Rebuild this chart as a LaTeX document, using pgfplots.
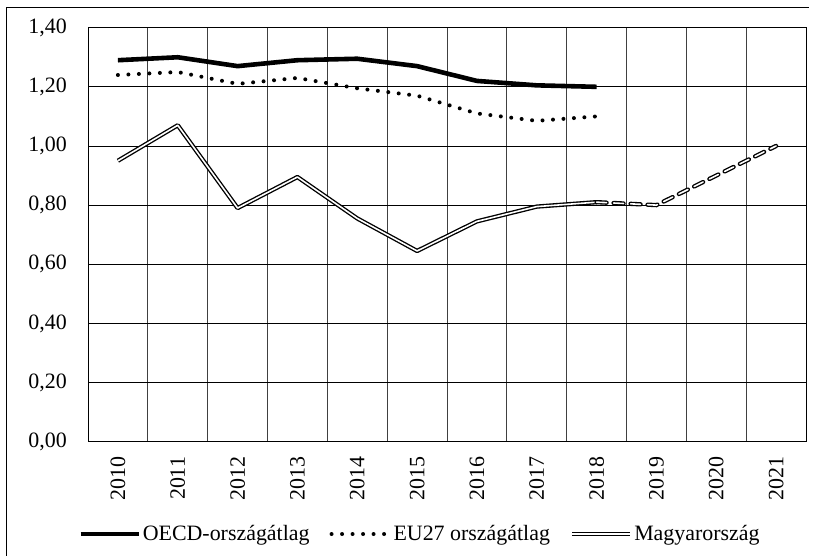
\documentclass[border=0pt]{standalone}
\usepackage{fontspec}
\setmainfont{Liberation Serif}
\usepackage{pgfplots}
\pgfplotsset{compat=1.18}
\begin{document}
\begin{tikzpicture}[x=1bp,y=1bp]
\useasboundingbox (0,0) rectangle (814,556);
\draw[line width=1bp] (6.7,0) -- (6.7,548.7) -- (809,548.7);
\begin{axis}[
  at={(88bp,114.3bp)}, anchor=south west, scale only axis,
  width=718bp, height=414bp,
  xmin=-0.5, xmax=11.5, ymin=0, ymax=1.4,
  xtick={0,1,2,3,4,5,6,7,8,9,10,11},
  xticklabels={2010,2011,2012,2013,2014,2015,2016,2017,2018,2019,2020,2021},
  minor xtick={-0.5,0.5,1.5,2.5,3.5,4.5,5.5,6.5,7.5,8.5,9.5,10.5,11.5},
  ytick={0,0.2,0.4,0.6,0.8,1.0,1.2,1.4},
  major tick length=0pt, minor tick length=0pt,
  xminorgrids=true, ymajorgrids=true, xmajorgrids=false,
  minor grid style={black!75, line width=0.8bp},
  major grid style={black, line width=0.8bp},
  axis line style={line width=0.9bp, black},
  /pgf/number format/assume math mode=true,
  yticklabel style={/pgf/number format/.cd, fixed, fixed zerofill, precision=2, use comma},
  tick label style={font=\fontsize{22}{25}\selectfont, inner sep=0pt},
  xticklabel style={rotate=90, anchor=east},
  xticklabel shift=15bp, yticklabel shift=21bp,
  legend columns=3,
  legend cell align=left,
  legend style={draw=none, fill=none, at={(axis description cs:-0.0139,-0.223)}, anchor=west, inner sep=0pt,
    font=\fontsize{22}{25}\selectfont,
    /tikz/every even column/.append style={column sep=18bp}},
  legend image code/.code={\draw[#1] (0bp,0bp) -- (58bp,0bp);},
]
\addplot[black, line width=4.6bp, line join=round] coordinates {
 (0,1.29) (1,1.30) (2,1.27) (3,1.29) (4,1.295) (5,1.27) (6,1.22) (7,1.205) (8,1.20)};
\addlegendentry{OECD-országátlag}
\addplot[black, line width=4bp, line cap=round, dash pattern=on 0bp off 10.5bp] coordinates {
 (0,1.24) (1,1.25) (2,1.21) (3,1.23) (4,1.195) (5,1.17) (6,1.11) (7,1.085) (8,1.10)};
\addlegendentry{EU27 országátlag}
\addplot[black, line width=1.35bp, double=white, double distance=1.6bp, line join=round] coordinates {
 (0,0.95) (1,1.07) (2,0.79) (3,0.895) (4,0.755) (5,0.645) (6,0.745) (7,0.795) (8,0.81)};
\addlegendentry{Magyarország}
\addplot[forget plot, black, line width=1.35bp, double=white, double distance=1.6bp, line cap=round, dash pattern=on 10bp off 7bp] coordinates {
 (8,0.81) (9,0.80) (10,0.90) (11,1.00)};
\end{axis}
\end{tikzpicture}
\end{document}
